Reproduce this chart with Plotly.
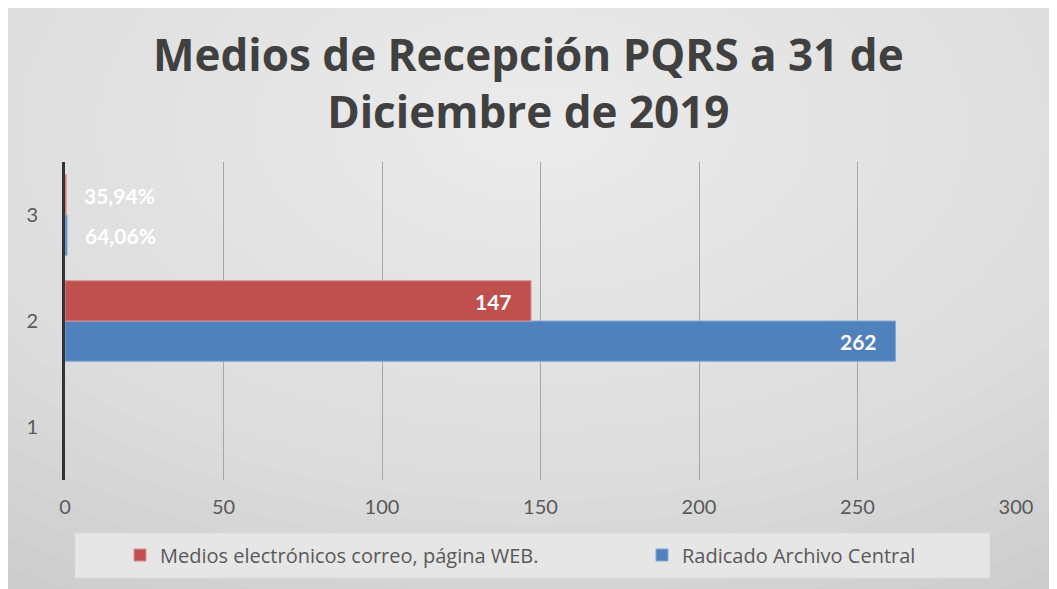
import plotly.graph_objects as go

categories = ["1", "2", "3"]
radicado_values = [None, 262, 0.6406]
radicado_labels = ["", "262", "64,06%"]
medios_values = [None, 147, 0.3594]
medios_labels = ["", "147", "35,94%"]
x_ticks = [0, 50, 100, 150, 200, 250, 300]

title_lines = ["Medios de Recepción PQRS a 31 de", "Diciembre de 2019"]
name_radicado = "Radicado Archivo Central"
name_medios = "Medios electrónicos correo, página WEB."

FONT = "Lato, 'Open Sans', sans-serif"
TFONT = "'Open Sans', Lato, sans-serif"
BLUE = "#4f81bd"
RED = "#c0504d"

# plot-area geometry (pixels within the figure)
W, H = 1049, 581
ML, MR, MT, MB = 57, 41, 154, 109
PW, PH = W - ML - MR, H - MT - MB


def px2paper(px, py):
    return (px - ML) / PW, (H - MB - py) / PH


fig = go.Figure()
fig.add_trace(go.Bar(
    y=categories, x=radicado_values, orientation="h", name=name_radicado,
    marker=dict(color=BLUE, line=dict(color="#86a9d6", width=1)),
    legend="legend2",
))
fig.add_trace(go.Bar(
    y=categories, x=medios_values, orientation="h", name=name_medios,
    marker=dict(color=RED, line=dict(color="#d99391", width=1)),
    legend="legend",
))

annotations = []
label_font = dict(family=FONT, size=21, color="white")
for vals, labels, yshift in [(radicado_values, radicado_labels, -20),
                             (medios_values, medios_labels, 20)]:
    for idx, (v, lab) in enumerate(zip(vals, labels)):
        if v is None or not lab:
            continue
        inside = v > 10
        annotations.append(dict(
            x=v, y=idx, xref="x", yref="y", text="<b>" + lab + "</b>",
            showarrow=False, xanchor="right" if inside else "left",
            xshift=-17 if inside else 16, yshift=yshift, yanchor="middle",
            font=label_font))

# title
tx, ty = px2paper(520, 74)
annotations.append(dict(x=tx, y=ty, xref="paper", yref="paper",
                        text="<b>" + "<br>".join(title_lines) + "</b>", showarrow=False,
                        xanchor="center", yanchor="middle",
                        font=dict(family=TFONT, size=44, color="#404040")))

shapes = []
# soft radial background highlight
cx, cy = px2paper(525, 120)
n = 24
for i in range(n):
    f = 1 - i / n
    rx, ry = 950 * f, 560 * f
    shapes.append(dict(type="circle", xref="paper", yref="paper",
                       x0=cx - rx / PW, x1=cx + rx / PW,
                       y0=cy - ry / PH, y1=cy + ry / PH,
                       fillcolor="white", opacity=0.055, line=dict(width=0),
                       layer="below"))
# legend box
lx0, ly0 = px2paper(67, 525)
lx1, ly1 = px2paper(982, 570)
shapes.append(dict(type="rect", xref="paper", yref="paper",
                   x0=lx0, x1=lx1, y0=ly0, y1=ly1,
                   fillcolor="#e6e6e6", line=dict(color="#dadada", width=1),
                   layer="below"))

legend_font = dict(family=TFONT, size=20, color="#595959")
l1x, lgy = px2paper(112, 547)
l2x, _ = px2paper(634, 547)

fig.update_layout(
    width=W, height=H,
    margin=dict(l=ML, r=MR, t=MT, b=MB, autoexpand=False),
    paper_bgcolor="#c9c9c9", plot_bgcolor="rgba(0,0,0,0)",
    barmode="group", bargap=0.24, bargroupgap=0,
    showlegend=True,
    legend=dict(orientation="h", x=l1x, xanchor="left", y=lgy, yanchor="middle",
                bgcolor="rgba(0,0,0,0)", font=legend_font, itemwidth=30),
    legend2=dict(orientation="h", x=l2x, xanchor="left", y=lgy, yanchor="middle",
                 bgcolor="rgba(0,0,0,0)", font=legend_font, itemwidth=30),
    shapes=shapes,
    annotations=annotations,
    xaxis=dict(range=[0, 300], tickvals=x_ticks, showgrid=True, gridcolor="#a6a6a6",
               gridwidth=1, zeroline=False, showline=False, ticks="",
               ticklabelstandoff=13,
               tickfont=dict(family=FONT, size=20, color="#595959")),
    yaxis=dict(type="category", categoryorder="array", categoryarray=categories,
               range=[-0.5, 2.5], showline=True, linecolor="#333333", linewidth=3,
               showgrid=False, ticks="", ticklabelstandoff=20,
               tickfont=dict(family=FONT, size=20, color="#595959")),
    font=dict(family=FONT),
)

fig.write_html("out.html")
